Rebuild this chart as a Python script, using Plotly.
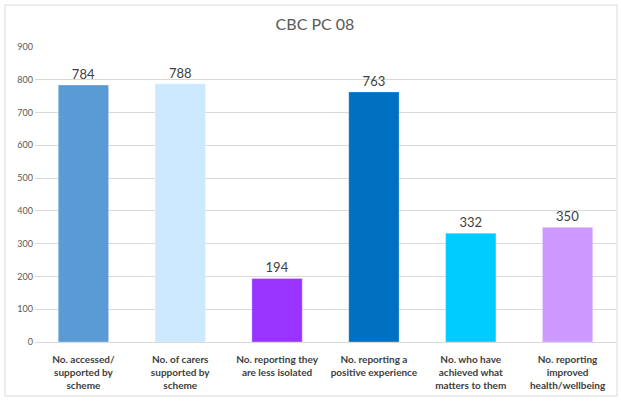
import plotly.graph_objects as go

categories = [
    "No. accessed/<br>supported by<br>scheme",
    "No. of carers<br>supported by<br>scheme",
    "No. reporting they<br>are less isolated",
    "No. reporting a<br>positive experience",
    "No. who have<br>achieved what<br>matters to them",
    "No. reporting<br>improved<br>health/wellbeing",
]
values = [784, 788, 194, 763, 332, 350]
colors = ["#5B9BD5", "#CCE9FF", "#9933FF", "#0070C0", "#00CCFF", "#CC99FF"]
y_ticks = [0, 100, 200, 300, 400, 500, 600, 700, 800, 900]

FONT = "Lato, Open Sans, sans-serif"

fig = go.Figure(
    go.Bar(
        x=categories,
        y=values,
        marker=dict(color=colors, line=dict(color="rgba(255,255,255,0.6)", width=0.5)),
        text=[str(v) for v in values],
        textposition="outside",
        textfont=dict(size=13, color="#404040", family=FONT),
        cliponaxis=False,
    )
)

L, R, T, B = 35, 5, 47, 59
W, H = 621, 401
pw, ph = W - L - R, H - T - B

fig.update_layout(
    width=W,
    height=H,
    margin=dict(l=L, r=R, t=T, b=B),
    paper_bgcolor="white",
    plot_bgcolor="white",
    bargap=0.48,
    showlegend=False,
    title=dict(
        text="CBC PC 08",
        x=315 / W,
        xanchor="center",
        y=1 - 24 / H,
        yanchor="middle",
        font=dict(size=16, color="#595959", family=FONT),
    ),
    xaxis=dict(
        showgrid=False,
        showline=True,
        linecolor="#D9D9D9",
        linewidth=1,
        tickfont=dict(size=10, color="#404040", family=FONT, weight="bold"),
        ticks="",
        ticklabelstandoff=8,
        automargin=False,
    ),
    yaxis=dict(
        range=[0, 900],
        tickvals=y_ticks,
        showgrid=True,
        gridcolor="#D9D9D9",
        gridwidth=1,
        zeroline=False,
        tickfont=dict(size=9, color="#595959", family=FONT),
        ticklabelstandoff=1,
        automargin=False,
    ),
    shapes=[
        dict(
            type="rect",
            xref="paper",
            yref="paper",
            x0=(5 - L) / pw,
            x1=(617 - L) / pw,
            y0=(H - B - 396) / ph,
            y1=(H - B - 5) / ph,
            line=dict(color="#D9D9D9", width=1),
            fillcolor="rgba(0,0,0,0)",
            layer="below",
        )
    ],
)

fig.write_html(
    "out.html",
    config={"displayModeBar": False},
    post_script="document.body.style.margin='0px';document.body.style.padding='0px';",
)
